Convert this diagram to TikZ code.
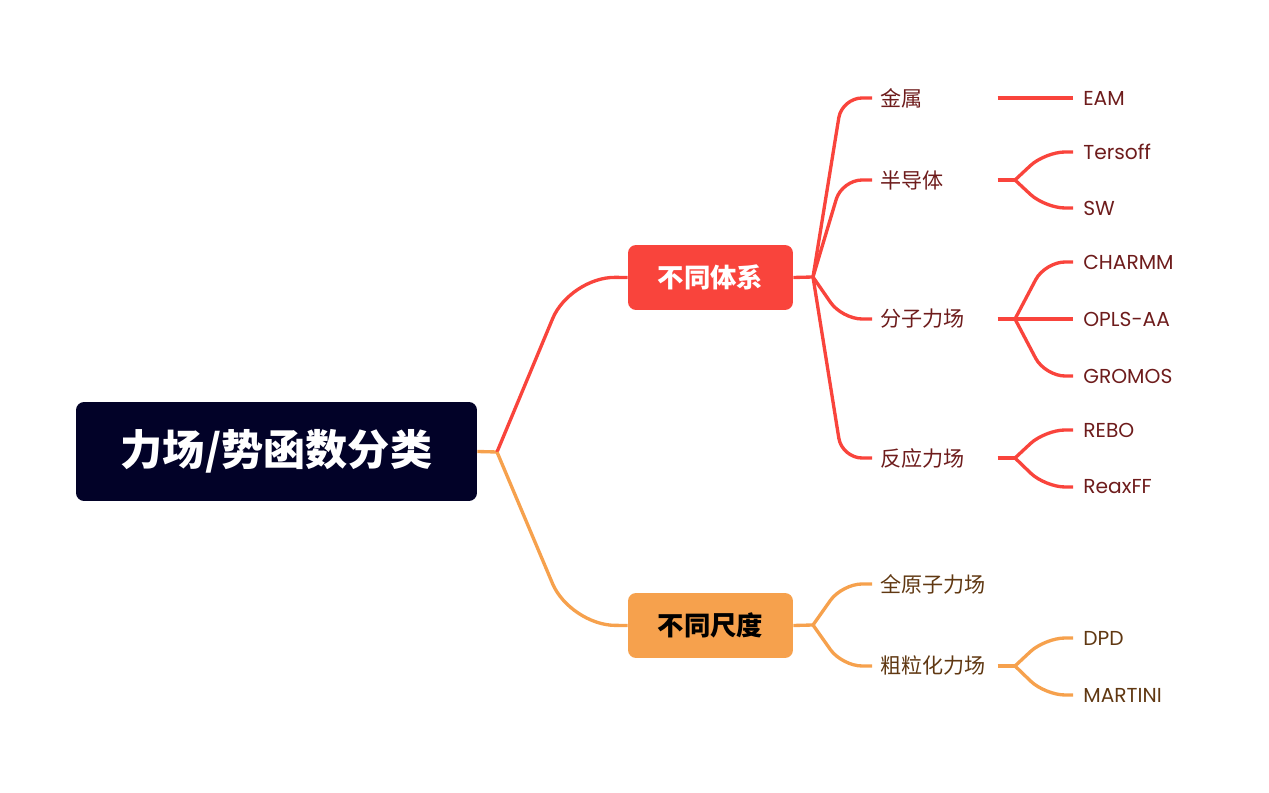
\documentclass[tikz,border=0pt]{standalone}
\usepackage{fontspec}
\setmainfont{Poppins}
\newfontfamily\cjk{Noto Sans CJK SC}
\usetikzlibrary{calc}
\definecolor{rootnavy}{RGB}{2,2,40}
\definecolor{sysred}{RGB}{249,68,60}
\definecolor{scaleorange}{RGB}{246,161,77}
\definecolor{redtext}{RGB}{110,28,28}
\definecolor{browntext}{RGB}{96,56,18}

\begin{document}
\begin{tikzpicture}[x=0.02cm,y=-0.02cm,
  rootbox/.style={rounded corners=0.16cm,fill=rootnavy,text=white,minimum width=8.02cm,minimum height=1.98cm,font=\cjk\bfseries\fontsize{24}{28}\selectfont},
  mainbox/.style={rounded corners=0.16cm,minimum width=3.3cm,minimum height=1.3cm,font=\cjk\bfseries\fontsize{15}{18}\selectfont},
  topic/.style={anchor=west,text width=2.18cm,align=left,inner xsep=0.16cm,inner ysep=0pt,font=\cjk\fontsize{12}{14}\selectfont},
  leaf/.style={anchor=west,inner xsep=0.2cm,inner ysep=0pt,font=\fontsize{11.5}{14}\selectfont},
  stub/.style={line width=1.9pt},
  link/.style={line width=1.9pt,rounded corners=0.9cm},
  twig/.style={line width=1.9pt,rounded corners=0.4cm},
]
\useasboundingbox (0,0) rectangle (1269,793);

% ---- Root ----
\node[rootbox] (root) at (276.5,451.5) {力场/势函数分类};
\coordinate (root-bp) at (497,452);
\draw[stub,scaleorange] (root.east) -- (root-bp);

% ---- Main branches ----
\node[mainbox,fill=sysred,text=white] (sys) at (710.5,277.5) {不同体系};
\node[mainbox,fill=scaleorange,text=black] (scale) at (710.5,625.5) {不同尺度};
\draw[link,sysred] (root-bp) -- (570,277) -- (sys.west);
\draw[link,scaleorange] (root-bp) -- (570,625) -- (scale.west);
\coordinate (sys-bp) at (813,277);
\coordinate (scale-bp) at (813,625);
\draw[stub,sysred] (sys.east) -- (sys-bp);
\draw[stub,scaleorange] (scale.east) -- (scale-bp);

% ---- Different systems ----
\foreach \nm/\y/\txt in {metal/98/金属,semi/180/半导体,mol/319/分子力场,react/458/反应力场}{
  \node[topic,text=redtext] (\nm) at (872,\y) {\txt};
  \draw[twig,sysred] (sys-bp) -- (842,\y) -- (\nm.west);
  \coordinate (\nm-bp) at (1015,\y);
  \draw[stub,sysred] (\nm.east) -- (\nm-bp);
}
\foreach \p/\nm/\y/\txt in {metal/eam/98/EAM,semi/tersoff/152/Tersoff,semi/sw/208/SW,
    mol/charmm/262/CHARMM,mol/opls/319/OPLS-AA,mol/gromos/376/GROMOS,
    react/rebo/430/REBO,react/reaxff/487/ReaxFF}{
  \node[leaf,text=redtext] (\nm) at (1073,\y) {\txt};
  \draw[twig,sysred] (\p-bp) -- (1045,\y) -- (\nm.west);
}

% ---- Different scales ----
\foreach \nm/\y/\txt in {aa/584/全原子力场,cg/666/粗粒化力场}{
  \node[topic,text=browntext] (\nm) at (872,\y) {\txt};
  \draw[twig,scaleorange] (scale-bp) -- (842,\y) -- (\nm.west);
  \coordinate (\nm-bp) at (1015,\y);
}
\draw[stub,scaleorange] (cg.east) -- (cg-bp);
\foreach \p/\nm/\y/\txt in {cg/dpd/638/DPD,cg/martini/695/MARTINI}{
  \node[leaf,text=browntext] (\nm) at (1073,\y) {\txt};
  \draw[twig,scaleorange] (\p-bp) -- (1045,\y) -- (\nm.west);
}
\end{tikzpicture}
\end{document}
